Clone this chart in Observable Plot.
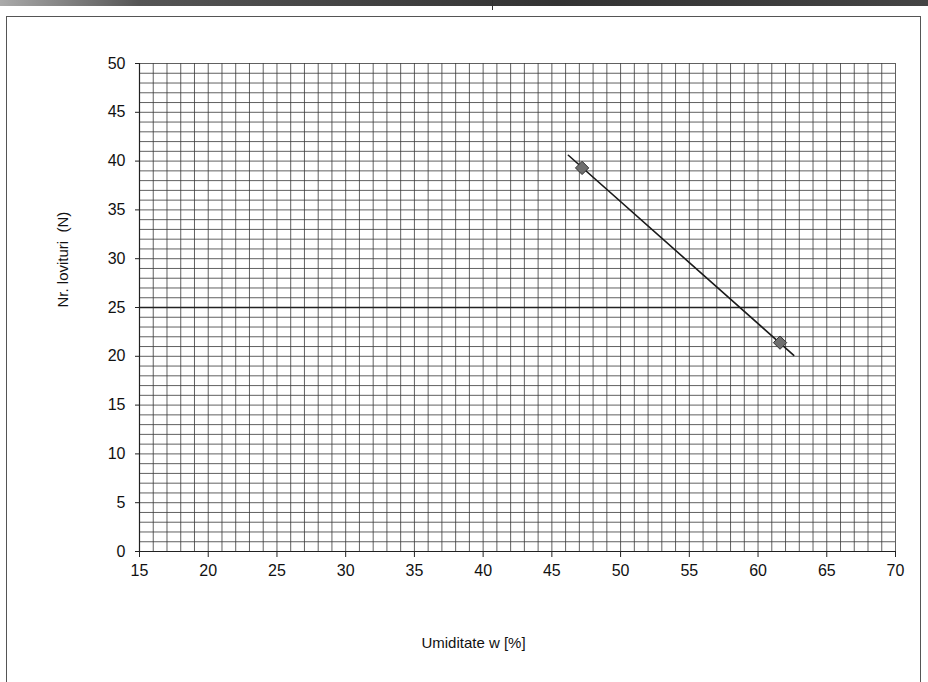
<!DOCTYPE html>
<html>
<head>
<meta charset="utf-8">
<script src="https://cdn.jsdelivr.net/npm/d3@7"></script>
<script src="https://cdn.jsdelivr.net/npm/@observablehq/plot@0.6"></script>
<style>
  html, body { margin: 0; padding: 0; background: #fff; }
  #wrap { position: relative; width: 928px; height: 682px; overflow: hidden; background: #fff; }
  #topband { position: absolute; left: 0; top: 0; width: 928px; height: 6px;
    background: linear-gradient(90deg, #aaa 0%, #555 15%, #333 60%, #444 100%); }
  #frame { position: absolute; left: 6px; top: 16px; width: 915px; height: 700px;
    border: 1.5px solid #555; box-sizing: border-box; }
  #tick { position: absolute; left: 492px; top: 0; width: 1px; height: 10px; background: #333; }
  #chart { position: absolute; left: 0; top: 0; }
</style>
</head>
<body>
<div id="wrap">
  <div id="topband"></div>
  <div id="tick"></div>
  <div id="frame"></div>
  <div id="chart"></div>
</div>
<script>
// Axis ticks
const xTickValues = [15, 20, 25, 30, 35, 40, 45, 50, 55, 60, 65, 70];
const yTickValues = [0, 5, 10, 15, 20, 25, 30, 35, 40, 45, 50];
// Grid lines every 1 unit
const xGridValues = d3.range(15, 71, 1);
const yGridValues = d3.range(0, 51, 1);

// Measured points (moisture %, blows N)
const pointW = [47.2, 61.6];
const pointN = [39.3, 21.4];

// Fitted line ends
const fitW = [46.2, 62.6];
const fitN = [40.6, 20.1];

// Reference line at N = 25
const refW = [15, 60];
const refN = [25, 25];

const xLabel = "Umiditate w [%]";
const yLabel = "Nr. lovituri  (N)";

const points = pointW.map((w, i) => ({w, n: pointN[i]}));
const fit = fitW.map((w, i) => ({w, n: fitN[i]}));
const ref = refW.map((w, i) => ({w, n: refN[i]}));

const chart = Plot.plot({
  width: 928,
  height: 682,
  marginLeft: 139,
  marginRight: 33,
  marginTop: 63,
  marginBottom: 131,
  style: { fontFamily: "Liberation Sans, Arial, sans-serif", fontSize: "16px", color: "#111", background: "transparent" },
  x: { domain: [15, 70] },
  y: { domain: [0, 50] },
  marks: [
    Plot.gridX(xGridValues, { stroke: "#3a3a3a", strokeOpacity: 0.8, strokeWidth: 1 }),
    Plot.gridY(yGridValues, { stroke: "#3a3a3a", strokeOpacity: 0.8, strokeWidth: 1 }),
    Plot.axisX({ ticks: xTickValues, tickSize: 6, tickPadding: 7, label: null, stroke: "#222", fill: "#111", fontSize: 16 }),
    Plot.axisY({ ticks: yTickValues, tickSize: 4, tickPadding: 10, label: null, stroke: "#222", fill: "#111", fontSize: 16 }),
    Plot.ruleX([15], { stroke: "#222", strokeWidth: 1.2 }),
    Plot.ruleY([0], { stroke: "#222", strokeWidth: 1.2 }),
    Plot.line(ref, { x: "w", y: "n", stroke: "#222", strokeWidth: 1.6 }),
    Plot.line(fit, { x: "w", y: "n", stroke: "#1a1a1a", strokeWidth: 1.6 }),
    Plot.dot(points, { x: "w", y: "n", symbol: "diamond2", r: 6, fill: "#6e6e6e", stroke: "#333", strokeWidth: 1 }),
    Plot.text([xLabel], { frameAnchor: "bottom", dx: -44, dy: 96, fontSize: 15, fill: "#111" }),
    Plot.text([yLabel], { frameAnchor: "left", dx: -76, rotate: -90, fontSize: 15, fill: "#111" })
  ]
});
document.getElementById("chart").appendChild(chart);
</script>
</body>
</html>
